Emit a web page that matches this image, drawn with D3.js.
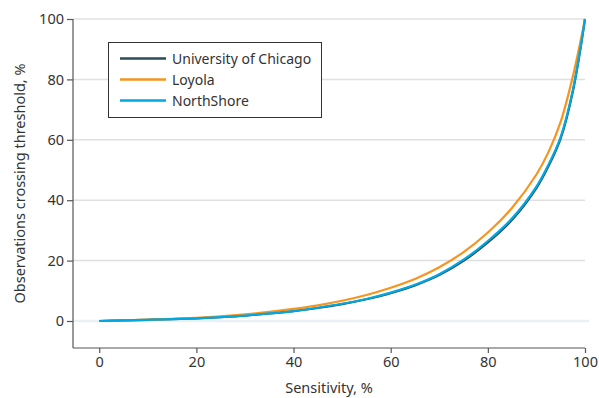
<!DOCTYPE html>
<html>
<head>
<meta charset="utf-8">
<script src="https://cdn.jsdelivr.net/npm/d3@7"></script>
<style>
  html, body { margin: 0; padding: 0; background: #fff; }
  svg { display: block; font-family: "Noto Sans", "Open Sans", sans-serif; }
</style>
</head>
<body>
<svg id="chart" width="599" height="398"></svg>
<script>
// ---- data ----
const sensitivity = [0, 5, 10, 15, 20, 25, 30, 35, 40, 45, 50, 55, 60, 65, 70, 75, 80, 85, 90, 92.5, 95, 97.5, 100];
const uchicago   = [0, 0.2, 0.4, 0.6, 0.9, 1.3, 1.8, 2.5, 3.3, 4.3, 5.6, 7.2, 9.2, 11.8, 15.2, 19.9, 26.0, 33.5, 44.0, 51.3, 60.5, 76.0, 100];
const loyola     = [0, 0.2, 0.45, 0.7, 1.05, 1.55, 2.2, 3.0, 4.0, 5.2, 6.7, 8.6, 11.0, 13.9, 17.8, 22.8, 29.3, 37.5, 48.5, 56.0, 66.0, 81.0, 100];
const northshore = [0, 0.2, 0.4, 0.6, 0.9, 1.3, 1.8, 2.5, 3.3, 4.4, 5.7, 7.3, 9.4, 12.0, 15.5, 20.3, 26.5, 34.0, 44.5, 51.8, 61.0, 76.5, 100];
const seriesNames = ["University of Chicago", "Loyola", "NorthShore"];
const seriesColors = ["#2c4b58", "#f7941d", "#00a8e1"];
const xTicks = [0, 20, 40, 60, 80, 100];
const yTicks = [0, 20, 40, 60, 80, 100];
const xTitle = "Sensitivity, %";
const yTitle = "Observations crossing threshold, %";

const series = [uchicago, loyola, northshore].map((vals, i) => ({
  name: seriesNames[i], color: seriesColors[i],
  points: sensitivity.map((s, j) => [s, vals[j]])
}));

const svg = d3.select("#chart");
const pLeft = 73, pRight = 585, pTop = 19, pBottom = 348;
const x = d3.scaleLinear().domain([-5.4, 100]).range([pLeft, pRight]);
const y = d3.scaleLinear().domain([-8.94, 100]).range([pBottom, pTop]);

// gridlines
svg.append("g").selectAll("line").data(yTicks.filter(d => d !== 0)).join("line")
  .attr("x1", pLeft).attr("x2", pRight)
  .attr("y1", d => y(d)).attr("y2", d => y(d))
  .attr("stroke", "#e0e0e0").attr("stroke-width", 1.5);
svg.append("line")
  .attr("x1", pLeft).attr("x2", pRight + 4)
  .attr("y1", y(0)).attr("y2", y(0))
  .attr("stroke", "#e9f1f4").attr("stroke-width", 2.5);

// axes
const xAxis = svg.append("g").attr("transform", `translate(0,${pBottom})`)
  .call(d3.axisBottom(x).tickValues(xTicks).tickSize(5).tickPadding(4).tickSizeOuter(0));
const yAxis = svg.append("g").attr("transform", `translate(${pLeft},0)`)
  .call(d3.axisLeft(y).tickValues(yTicks).tickSize(6).tickPadding(3).tickSizeOuter(0));
[xAxis, yAxis].forEach(g => {
  g.select(".domain").attr("stroke", "#555").attr("stroke-width", 1.2);
  g.selectAll(".tick line").attr("stroke", "#555").attr("stroke-width", 1.2);
  g.selectAll(".tick text").attr("fill", "#333").style("font-size", "14.5px")
    .style("font-family", '"Noto Sans", sans-serif');
});
xAxis.select(".domain").attr("d", `M${pLeft},0H${pRight}`);
yAxis.select(".domain").attr("d", `M0,${pTop}V${pBottom}`);

// lines
const line = d3.line().x(d => x(d[0])).y(d => y(d[1])).curve(d3.curveCatmullRom.alpha(0.5));
svg.append("g").selectAll("path").data(series).join("path")
  .attr("d", d => line(d.points))
  .attr("fill", "none").attr("stroke", d => d.color).attr("stroke-width", 2.2);

// titles
svg.append("text").attr("x", (pLeft + pRight) / 2).attr("y", 393)
  .attr("text-anchor", "middle").attr("fill", "#333").style("font-size", "14.5px").text(xTitle);
svg.append("text").attr("transform", `translate(25,${(pTop + pBottom) / 2}) rotate(-90)`)
  .attr("text-anchor", "middle").attr("fill", "#333").style("font-size", "14.5px").text(yTitle);

// legend
const lg = svg.append("g");
lg.append("rect").attr("x", 108.5).attr("y", 42.5).attr("width", 213).attr("height", 75)
  .attr("fill", "#fff").attr("stroke", "#333").attr("stroke-width", 1);
series.forEach((s, i) => {
  const yy = 58.5 + i * 21;
  lg.append("line").attr("x1", 120).attr("x2", 166).attr("y1", yy).attr("y2", yy)
    .attr("stroke", s.color).attr("stroke-width", 2.5);
  lg.append("text").attr("x", 172).attr("y", yy + 5).attr("fill", "#333")
    .style("font-size", "14px").text(s.name);
});
</script>
</body>
</html>
